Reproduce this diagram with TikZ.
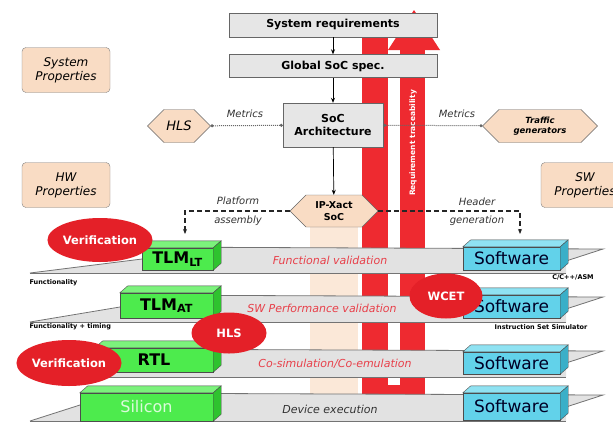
\documentclass[tikz,border=0pt]{standalone}
\usepackage{fontspec}
\setmainfont{DejaVu Sans}
\usetikzlibrary{shapes.symbols,shapes.geometric,arrows.meta,positioning}

\definecolor{reqred}{HTML}{EE2A30}
\definecolor{ovalred}{HTML}{E42028}
\definecolor{peach}{HTML}{F9DCC4}
\definecolor{paleband}{HTML}{FBE8D8}
\definecolor{boxgray}{HTML}{E6E6E6}
\definecolor{planegray}{HTML}{E2E2E2}
\definecolor{hwgreen}{HTML}{4DEB4D}
\definecolor{hwtop}{HTML}{7CF27C}
\definecolor{hwside}{HTML}{2FC22F}
\definecolor{swcyan}{HTML}{62D2EA}
\definecolor{swtop}{HTML}{8FE2F2}
\definecolor{swside}{HTML}{3AAFC8}
\definecolor{labred}{HTML}{E8404A}

% top and side faces of a slab node
\newcommand\SlabFaces[3]{
  \filldraw[fill=#2,draw=black!70] (#1.north west) -- ++(8,-7) -- ([shift={(8,-7)}]#1.north east) -- (#1.north east) -- cycle;
  \filldraw[fill=#3,draw=black!70] (#1.north east) -- ++(8,-7) -- ([shift={(8,-7)}]#1.south east) -- (#1.south east) -- cycle;
}

\begin{document}
\begin{tikzpicture}[x=1pt,y=-1pt]
  \tikzset{specbox/.style={draw=black!60,fill=boxgray,font=\fontsize{11}{13}\selectfont\bfseries,align=center,inner sep=1pt}}
  \tikzset{propbox/.style={draw=black!50,fill=peach,rounded corners=4pt,font=\fontsize{12}{14}\selectfont\itshape,align=center,minimum width=88,minimum height=45}}
  \tikzset{hexbox/.style={signal,signal to=west and east,draw=black!60,fill=peach,align=center,inner sep=1pt}}
  \tikzset{hwslab/.style={draw=black!70,fill=hwgreen,font=\fontsize{16}{18}\selectfont\bfseries,inner sep=0pt}}
  \tikzset{swslab/.style={draw=black!70,fill=swcyan,font=\fontsize{17}{19}\selectfont,text=black!85!blue,minimum width=97,inner sep=0pt}}
  \tikzset{redoval/.style={ellipse,fill=ovalred,text=white,font=\fontsize{11.5}{13}\selectfont\bfseries,inner sep=0pt}}
  \tikzset{planeline/.style={draw=black!55,line width=0.8pt}}
  \tikzset{planelabel/.style={font=\fontsize{11}{13}\selectfont\itshape,text=labred}}
  \tikzset{smalllabel/.style={font=\fontsize{6.5}{8}\selectfont\bfseries}}
  \tikzset{linelabel/.style={font=\fontsize{10}{12}\selectfont\itshape,text=black!80}}
  \tikzset{flow/.style={-{Stealth[length=5pt,width=4pt]},black,line width=0.7pt}}
  \tikzset{metric/.style={{Circle[length=3pt]}-{Circle[length=3pt]},densely dotted,black!60,line width=1pt}}
  \tikzset{assembly/.style={-{Stealth[length=5pt,width=4pt]},dash pattern=on 5pt off 3pt,black!85,line width=1.1pt}}

  \fill[white] (0,0) rectangle (613,421);
  \useasboundingbox (0,0) rectangle (613,421);

  % pale band under the IP-Xact description
  \fill[paleband] (310,226) rectangle (358,400);

  % requirement traceability loop
  \fill[reqred] (362,20) rectangle (388,400);
  \fill[reqred] (388,385) rectangle (400,398);
  \fill[reqred] (400,50) rectangle (425,400);
  \fill[reqred] (388,50) -- (414,10) -- (440,50) -- cycle;
  \node[rotate=90,text=white,font=\fontsize{7.5}{9}\selectfont\bfseries] (trace) at (413,143) {Requirement traceability};

  % specification flow
  \node[specbox,minimum width=208,minimum height=24] (sysreq) at (333,25) {System requirements};
  \node[specbox,minimum width=208,minimum height=23] (glob) at (333,66) {Global SoC spec.};
  \node[specbox,minimum width=100,minimum height=44] (arch) at (333,125) {SoC\\Architecture};
  \node[hexbox,minimum width=63,minimum height=33,font=\fontsize{13}{15}\selectfont\itshape] (hls) at (179,126) {HLS};
  \node[hexbox,minimum width=115,minimum height=33,font=\fontsize{8.5}{10}\selectfont\bfseries\itshape] (traffic) at (540,126) {Traffic\\generators};
  \node[hexbox,minimum width=88,minimum height=32,font=\fontsize{9.5}{11.5}\selectfont\bfseries] (ipx) at (334,211) {IP-Xact\\SoC};

  \node[propbox] (sysprop) at (66,70) {System\\Properties};
  \node[propbox] (hwprop) at (66,185) {HW\\Properties};
  \node[propbox] (swprop) at (585,185) {SW\\Properties};

  \draw[flow] (sysreq) -- (glob);
  \draw[flow] (glob) -- (arch);
  \draw[flow] (arch) -- (ipx);
  \draw[metric] (hls) -- (arch);
  \draw[metric] (arch) -- (traffic);
  \node[linelabel] (metl) at (245,114) {Metrics};
  \node[linelabel] (metr) at (457,114) {Metrics};

  % abstraction planes
  \foreach \yt/\yb/\gl in {247/273/142,295/322/120,349/377/95,393/421/80}{
    \fill[planegray] (30,\yb) -- (\gl,\yt+12) -- (\gl,\yt) -- (603,\yt+2) -- (566,\yt+14) -- (566,\yb) -- cycle;
    \draw[planeline] (30,\yb) -- (\gl,\yt+12);
    \draw[planeline] (30,\yb) -- (566,\yb);
    \draw[planeline] (\gl,\yt) -- (603,\yt+2) -- (566,\yt+14);
  }

  \node[planelabel] (funcval) at (330,260) {Functional validation};
  \node[planelabel] (perfval) at (322,308) {SW Performance validation};
  \node[planelabel] (cosim) at (335,364) {Co-simulation/Co-emulation};
  \node[planelabel,text=black!80] (devex) at (330,409) {Device execution};

  % hardware slabs
  \node[hwslab,minimum width=71,minimum height=22] (tlmlt) at (177.5,259) {TLM\textsubscript{LT}};
  \SlabFaces{tlmlt}{hwtop}{hwside}
  \node[hwslab,minimum width=93,minimum height=25] (tlmat) at (166.5,305.5) {TLM\textsubscript{AT}};
  \SlabFaces{tlmat}{hwtop}{hwside}
  \node[hwslab,minimum width=118,minimum height=24] (rtl) at (154,360) {RTL};
  \SlabFaces{rtl}{hwtop}{hwside}
  \node[hwslab,minimum width=133,minimum height=28,text=white!80!hwgreen,font=\fontsize{16}{18}\selectfont] (silicon) at (146.5,407) {Silicon};
  \SlabFaces{silicon}{hwtop}{hwside}

  % software slabs
  \node[swslab,minimum height=23] (sw1) at (511.5,258.5) {Software};
  \SlabFaces{sw1}{swtop}{swside}
  \node[swslab,minimum height=23] (sw2) at (511.5,306.5) {Software};
  \SlabFaces{sw2}{swtop}{swside}
  \node[swslab,minimum height=22] (sw3) at (511.5,363) {Software};
  \SlabFaces{sw3}{swtop}{swside}
  \node[swslab,minimum height=27] (sw4) at (511.5,406.5) {Software};
  \SlabFaces{sw4}{swtop}{swside}

  \node[smalllabel,anchor=west] (func) at (26,283) {Functionality};
  \node[smalllabel,anchor=west] (functime) at (26,327) {Functionality + timing};
  \node[smalllabel] (ccpp) at (573,277) {C/C++/ASM};
  \node[smalllabel] (iss) at (541,327) {Instruction Set Simulator};

  % platform assembly and header generation
  \coordinate (pa) at (185,234);
  \coordinate (hg) at (520,234);
  \draw[assembly] (ipx.west) -| (pa);
  \draw[assembly] (ipx.east) -| (hg);
  \node[linelabel] (plat) at (238,201) {Platform};
  \node[linelabel] (assm) at (238,221) {assembly};
  \node[linelabel] (head) at (477,202) {Header};
  \node[linelabel] (gen) at (477,221) {generation};

  % analysis ovals
  \node[redoval,minimum width=100,minimum height=44] (verif1) at (100,240) {Verification};
  \node[redoval,minimum width=75,minimum height=41] (hls2) at (229,333) {HLS};
  \node[redoval,minimum width=98,minimum height=46] (verif2) at (69,363) {Verification};
  \node[redoval,minimum width=73,minimum height=45] (wcet) at (446,296) {WCET};
\end{tikzpicture}
\end{document}
